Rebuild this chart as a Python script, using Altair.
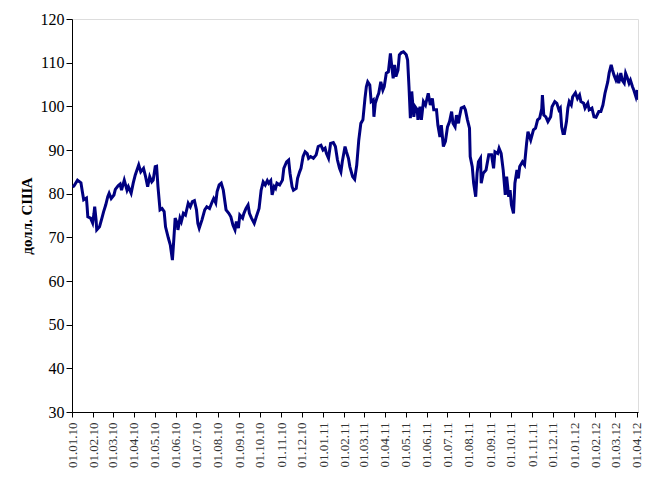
import altair as alt
import pandas as pd

# Days after 01.01.2010 of each reading, and the price (USD) read at that day
days = [1, 3, 8, 13, 15, 17, 21, 22, 23, 27, 30, 32, 33, 35, 36, 40, 44, 46, 49, 52,
        54, 57, 61, 63, 67, 70, 72, 76, 80, 82, 86, 89, 92, 97, 100, 104, 107, 110, 113, 116,
        118, 121, 123, 125, 128, 131, 134, 136, 140, 143, 146, 148, 150, 153, 154, 157, 159, 162, 165, 169,
        172, 175, 178, 181, 183, 185, 189, 193, 196, 200, 204, 206, 209, 211, 214, 217, 220, 224, 228, 231,
        234, 237, 239, 242, 244, 248, 250, 253, 256, 258, 261, 265, 268, 272, 275, 278, 281, 284, 286, 289,
        291, 294, 296, 298, 302, 306, 308, 312, 315, 317, 320, 322, 326, 328, 331, 333, 336, 339, 342, 344,
        347, 351, 355, 358, 362, 365, 368, 370, 373, 376, 380, 383, 386, 389, 391, 393, 397, 399, 402, 404,
        408, 411, 414, 417, 420, 423, 426, 428, 430, 433, 435, 438, 439, 441, 444, 446, 449, 452, 454, 457,
        460, 463, 465, 467, 469, 471, 474, 476, 479, 482, 486, 488, 490, 492, 494, 497, 499, 502, 503, 506,
        508, 511, 514, 518, 521, 524, 526, 530, 532, 535, 537, 540, 543, 546, 549, 552, 554, 557, 559, 562,
        563, 566, 570, 572, 575, 578, 579, 582, 584, 587, 589, 591, 594, 595, 598, 602, 606, 610, 613, 615,
        619, 621, 624, 627, 630, 632, 635, 637, 639, 642, 644, 647, 649, 651, 655, 658, 661, 663, 667, 671,
        674, 677, 680, 683, 684, 686, 689, 692, 696, 698, 702, 705, 708, 710, 712, 714, 716, 719, 721, 723,
        726, 728, 732, 735, 738, 740, 744, 746, 750, 752, 756, 759, 762, 766, 769, 772, 775, 779, 781, 784,
        786, 788, 791, 793, 795, 798, 800, 803, 805, 807, 810, 812, 815, 817, 820, 822, 824, 827, 829, 832,
        834]

price = [81.5, 81.8, 83.1, 82.5, 80.5, 78.6, 79.0, 77.0, 74.7, 74.4, 73.3, 75.5, 77.0, 74.0, 71.7, 72.4, 74.7, 75.9, 77.4, 79.3,
         80.1, 78.9, 79.7, 81.0, 81.8, 82.2, 80.8, 83.1, 80.8, 81.6, 80.1, 82.4, 84.3, 86.6, 85.0, 85.8, 83.9, 81.6, 83.9, 82.7,
         83.1, 86.2, 86.3, 81.6, 76.3, 76.6, 75.9, 72.4, 69.9, 68.2, 64.8, 69.4, 74.4, 73.2, 71.7, 74.4, 73.6, 75.5, 75.1, 77.8,
         77.0, 78.2, 78.4, 76.3, 73.2, 72.1, 74.0, 76.3, 77.0, 76.6, 78.2, 78.9, 77.9, 80.5, 82.0, 82.4, 80.8, 76.3, 75.5, 74.7,
         72.8, 71.7, 73.6, 72.1, 75.1, 74.4, 75.5, 76.6, 77.4, 75.5, 74.4, 73.2, 74.7, 76.6, 80.8, 82.7, 82.0, 83.0, 82.4, 83.0,
         79.7, 81.6, 81.2, 82.4, 82.0, 83.1, 85.8, 87.3, 87.7, 84.7, 81.6, 80.8, 81.2, 83.5, 85.0, 85.8, 88.5, 89.6, 89.2, 88.1,
         88.5, 88.1, 88.9, 90.8, 91.1, 90.0, 90.4, 89.2, 88.1, 91.5, 91.7, 90.8, 87.7, 85.8, 85.0, 87.3, 90.8, 89.6, 88.1, 86.2,
         83.9, 83.3, 86.5, 92.3, 96.1, 96.9, 101.8, 104.5, 105.6, 104.9, 101.1, 101.5, 97.6, 100.7, 102.2, 103.0, 105.6, 103.7, 104.5, 107.6,
         107.9, 112.1, 109.1, 106.4, 109.5, 106.8, 108.3, 111.8, 112.3, 112.5, 111.8, 110.6, 104.5, 97.3, 103.4, 97.6, 99.9, 99.2, 96.9, 99.9,
         96.9, 101.1, 100.3, 103.0, 100.3, 101.8, 99.2, 99.2, 95.7, 93.0, 95.7, 90.8, 92.0, 95.3, 96.5, 98.8, 96.1, 95.3, 98.0, 96.1,
         97.3, 99.6, 99.9, 99.2, 96.9, 95.0, 88.5, 86.2, 82.4, 79.3, 84.7, 87.3, 88.1, 82.4, 84.7, 85.4, 88.9, 88.9, 85.8, 89.6,
         89.2, 90.4, 89.2, 85.4, 79.7, 83.9, 79.3, 80.8, 77.4, 75.5, 82.4, 85.4, 83.5, 86.2, 87.3, 86.6, 91.5, 94.2, 92.3, 94.6,
         95.0, 96.9, 97.3, 99.4, 102.6, 98.0, 97.6, 96.5, 97.6, 99.9, 101.1, 100.7, 99.2, 99.6, 95.3, 93.8, 93.8, 96.5, 99.6, 101.1,
         100.3, 102.2, 103.1, 101.8, 102.6, 101.1, 100.7, 99.6, 100.7, 99.2, 99.6, 97.6, 97.5, 98.8, 98.8, 100.3, 103.0, 105.6, 107.6, 109.5,
         108.3, 107.2, 106.0, 106.8, 105.3, 107.6, 106.0, 105.3, 107.6, 106.8, 105.3, 106.0, 104.5, 103.7, 102.2, 103.7, 101.5, 103.4, 102.2, 103.4,
         103.0]

y_ticks = [30, 40, 50, 60, 70, 80, 90, 100, 110, 120]
tick_months = [(2010, m) for m in range(1, 13)] + [(2011, m) for m in range(1, 13)] + [(2012, m) for m in range(1, 5)]
y_title = "долл. США"

start = pd.Timestamp("2010-01-01")
df = pd.DataFrame({
    "date": [(start + pd.Timedelta(days=d)).strftime("%Y-%m-%d") for d in days],
    "price": price,
})

x_values = [alt.DateTime(year=y, month=m, date=1) for (y, m) in tick_months]

chart = alt.Chart(df).mark_line(color="#000080", strokeWidth=3, clip=True).encode(
    x=alt.X(
        "date:T",
        scale=alt.Scale(domain=[alt.DateTime(year=2010, month=1, date=1),
                                alt.DateTime(year=2012, month=4, date=3)]),
        axis=alt.Axis(
            values=x_values, format="%d.%m.%y", labelAngle=270, title=None,
            labelFont="Liberation Serif", labelFontSize=13, labelColor="#333333",
            tickSize=5, labelPadding=5, grid=False, domainColor="black",
            tickColor="black", labelOverlap=False, labelFlush=False,
        ),
    ),
    y=alt.Y(
        "price:Q",
        scale=alt.Scale(domain=[30, 120], nice=False, zero=False),
        axis=alt.Axis(
            values=y_ticks, title=y_title, titleFont="Liberation Serif",
            titleFontSize=15, titleFontWeight="bold", titleColor="black", titlePadding=6,
            labelFont="Liberation Serif", labelFontSize=16, labelColor="black",
            tickSize=6, labelPadding=2, grid=False, domainColor="black", tickColor="black",
        ),
    ),
).properties(
    width=566, height=393,
    autosize=alt.AutoSizeParams(type="none"),
    padding={"left": 64, "top": 11, "right": 6, "bottom": 58},
).configure_view(stroke=None).configure(background="white")

chart.save("out.html", embed_options={"renderer": "svg", "actions": False})
